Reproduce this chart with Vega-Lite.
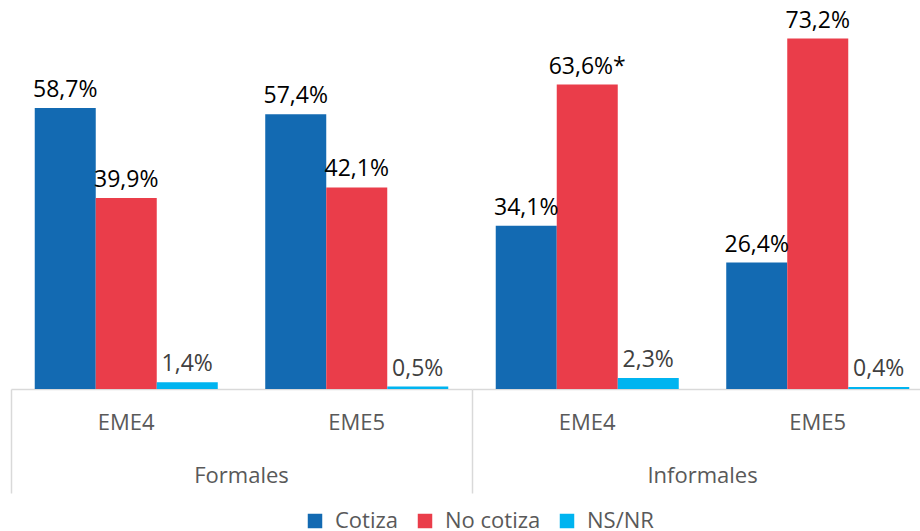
{
  "$schema": "https://vega.github.io/schema/vega-lite/v6.json",
  "padding": {"left": 10, "top": 6, "right": 0, "bottom": 0},
  "background": "white",
  "data": {
    "values": [
      {"grupo": "Formales", "periodo": "EME4", "serie": "Cotiza", "valor": 58.7, "etiqueta": "58,7%"},
      {"grupo": "Formales", "periodo": "EME4", "serie": "No cotiza", "valor": 39.9, "etiqueta": "39,9%"},
      {"grupo": "Formales", "periodo": "EME4", "serie": "NS/NR", "valor": 1.4, "etiqueta": "1,4%"},
      {"grupo": "Formales", "periodo": "EME5", "serie": "Cotiza", "valor": 57.4, "etiqueta": "57,4%"},
      {"grupo": "Formales", "periodo": "EME5", "serie": "No cotiza", "valor": 42.1, "etiqueta": "42,1%"},
      {"grupo": "Formales", "periodo": "EME5", "serie": "NS/NR", "valor": 0.5, "etiqueta": "0,5%"},
      {"grupo": "Informales", "periodo": "EME4", "serie": "Cotiza", "valor": 34.1, "etiqueta": "34,1%"},
      {"grupo": "Informales", "periodo": "EME4", "serie": "No cotiza", "valor": 63.6, "etiqueta": "63,6%*"},
      {"grupo": "Informales", "periodo": "EME4", "serie": "NS/NR", "valor": 2.3, "etiqueta": "2,3%"},
      {"grupo": "Informales", "periodo": "EME5", "serie": "Cotiza", "valor": 26.4, "etiqueta": "26,4%"},
      {"grupo": "Informales", "periodo": "EME5", "serie": "No cotiza", "valor": 73.2, "etiqueta": "73,2%"},
      {"grupo": "Informales", "periodo": "EME5", "serie": "NS/NR", "valor": 0.4, "etiqueta": "0,4%"}
    ]
  },
  "facet": {
    "column": {
      "field": "grupo", "type": "nominal", "sort": ["Formales", "Informales"],
      "header": {"title": null, "labelOrient": "bottom", "labelFont": "Open Sans", "labelFontSize": 22, "labelColor": "#595959", "labelPadding": -28}
    }
  },
  "spacing": 0,
  "spec": {
    "width": 461,
    "height": 383,
    "encoding": {
      "x": {
        "field": "periodo", "type": "nominal", "sort": ["EME4", "EME5"],
        "scale": {"paddingInner": 0.206, "paddingOuter": 0.103},
        "axis": {
          "title": null, "labelAngle": 0, "domainColor": "#d9d9d9", "domainWidth": 1.5,
          "ticks": true, "tickSize": 104, "tickWidth": 1.5, "bandPosition": -0.1297,
          "tickColor": {"condition": {"test": "datum.value === 'EME4'", "value": "#d9d9d9"}, "value": "rgba(0,0,0,0)"},
          "labelPadding": -81, "labelFont": "Open Sans", "labelFontSize": 22, "labelColor": "#595959"
        }
      },
      "xOffset": {"field": "serie", "type": "nominal", "sort": ["Cotiza", "No cotiza", "NS/NR"], "scale": {"paddingInner": 0, "paddingOuter": 0}},
      "y": {"field": "valor", "type": "quantitative", "scale": {"domain": [0, 80]}, "axis": null}
    },
    "layer": [
      {
        "mark": {"type": "bar"},
        "encoding": {
          "color": {
            "field": "serie", "type": "nominal",
            "scale": {"domain": ["Cotiza", "No cotiza", "NS/NR"], "range": ["#136AB2", "#EA3D4A", "#00B4F0"]},
            "legend": {
              "title": null, "orient": "none", "legendX": 293, "legendY": 504, "direction": "horizontal", "symbolType": "square",
              "symbolSize": 210, "symbolStrokeWidth": 0, "labelFont": "Open Sans", "labelFontSize": 22,
              "labelColor": "#595959", "columnPadding": 15, "labelOffset": 9
            }
          }
        }
      },
      {
        "mark": {"type": "text", "baseline": "alphabetic", "dy": -11, "font": "Open Sans", "fontSize": 23},
        "encoding": {
          "text": {"field": "etiqueta", "type": "nominal"},
          "color": {"condition": {"test": "datum.valor < 5", "value": "#404040"}, "value": "#000000"}
        }
      }
    ]
  },
  "config": {"view": {"stroke": null}}
}
